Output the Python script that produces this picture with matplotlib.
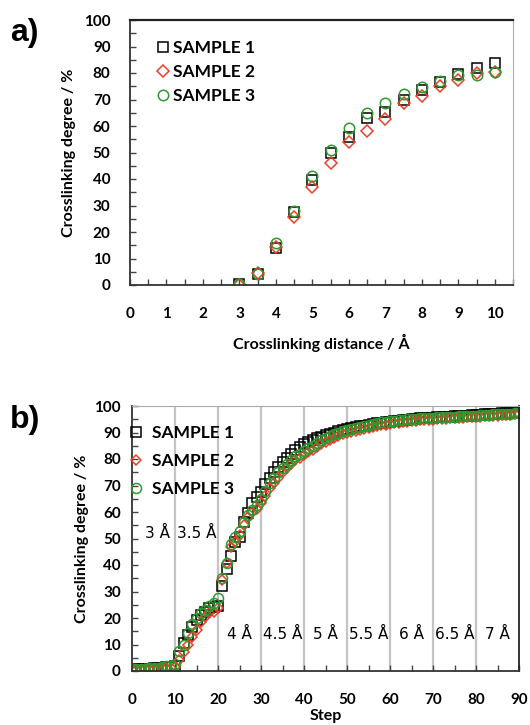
import numpy as np
import matplotlib
matplotlib.use('Agg')
import matplotlib.pyplot as plt
import matplotlib.ticker as ticker

plt.rcParams['font.family'] = ['Lato', 'DejaVu Sans']

# ---- panel a) : crosslinking degree vs distance
dist = [3, 3.5, 4, 4.5, 5, 5.5, 6, 6.5, 7, 7.5, 8, 8.5, 9, 9.5, 10]
a_s1 = [0.2, 4.0, 13.8, 27.7, 39.6, 49.7, 56.0, 63.0, 65.4, 69.8, 73.6, 76.7, 79.5, 82.0, 83.7]
a_s2 = [0.0, 4.5, 14.5, 25.5, 37.0, 46.0, 54.0, 58.0, 62.5, 68.6, 71.3, 75.2, 77.4, 79.9, 80.5]
a_s3 = [0.3, 4.0, 15.7, 28.0, 41.0, 51.0, 59.1, 64.8, 68.8, 72.0, 74.8, 77.0, 79.2, 79.2, 80.3]

# ---- panel b) : crosslinking degree vs step
steps = list(range(0, 91))
b_s1 = [0.5, 0.6, 0.7, 0.8, 0.9, 1.0, 1.1, 1.2, 1.4, 1.6, 2.0,
        5.8, 10.4, 13.6, 16.7, 19.2, 21.1, 22.4, 23.6, 24.0, 24.5,
        32.0, 38.4, 43.4, 48.8, 50.7, 56.4, 59.5, 63.3, 65.5, 67.5,
        70.5, 73.0, 75.0, 77.0, 79.0, 80.5, 82.0, 83.5, 84.5, 85.5,
        86.3, 87.0, 87.8, 88.4, 89.0, 89.5, 90.0, 90.4, 90.8, 91.2,
        91.6, 92.0, 92.3, 92.6, 92.9, 93.2, 93.5, 93.7, 93.9, 94.1,
        94.3, 94.5, 94.7, 94.9, 95.0, 95.2, 95.3, 95.4, 95.5, 95.6,
        95.7, 95.8, 95.9, 96.0, 96.1, 96.2, 96.3, 96.4, 96.5, 96.6,
        96.7, 96.8, 96.9, 97.0, 97.1, 97.2, 97.3, 97.4, 97.5, 97.6]
b_s2 = [0.3, 0.4, 0.5, 0.6, 0.7, 0.8, 0.9, 1.0, 1.1, 1.3, 1.5,
        4.1, 7.2, 9.8, 12.9, 15.4, 18.6, 20.5, 22.0, 22.4, 23.6,
        34.3, 40.6, 46.9, 48.8, 51.3, 55.0, 58.2, 60.0, 61.3, 63.3,
        66.0, 69.0, 71.0, 73.0, 75.0, 76.5, 78.0, 79.5, 80.5, 81.5,
        82.5, 83.5, 84.5, 85.5, 86.5, 87.2, 88.0, 88.7, 89.3, 89.8,
        90.2, 90.6, 91.0, 91.4, 91.8, 92.2, 92.5, 92.8, 93.0, 93.3,
        93.5, 93.7, 93.9, 94.1, 94.3, 94.5, 94.6, 94.7, 94.8, 94.9,
        95.0, 95.1, 95.2, 95.3, 95.4, 95.5, 95.6, 95.7, 95.8, 95.9,
        96.0, 96.1, 96.2, 96.3, 96.4, 96.5, 96.6, 96.7, 96.8, 96.9]
b_s3 = [0.6, 0.7, 0.8, 0.9, 1.0, 1.2, 1.3, 1.5, 1.7, 2.0, 2.5,
        7.5, 9.8, 14.2, 17.9, 19.9, 21.7, 23.0, 24.5, 25.5, 27.4,
        35.0, 40.6, 48.0, 50.5, 53.0, 56.4, 58.9, 60.7, 62.5, 65.0,
        68.0, 71.0, 73.0, 75.0, 76.5, 78.0, 79.5, 81.0, 82.0, 83.0,
        84.0, 85.0, 86.0, 87.0, 88.0, 88.7, 89.4, 90.0, 90.5, 91.0,
        91.4, 91.8, 92.2, 92.6, 93.0, 93.3, 93.6, 93.8, 94.0, 94.2,
        94.4, 94.6, 94.8, 95.0, 95.1, 95.2, 95.3, 95.4, 95.5, 95.6,
        95.7, 95.8, 95.9, 96.0, 96.0, 96.1, 96.2, 96.2, 96.3, 96.4,
        96.5, 96.6, 96.7, 96.8, 96.9, 97.0, 97.0, 97.1, 97.2, 97.3]

labels = ['SAMPLE 1', 'SAMPLE 2', 'SAMPLE 3']
dist_labels = ['3 Å', '3.5 Å', '4 Å', '4.5 Å', '5 Å', '5.5 Å', '6 Å', '6.5 Å', '7 Å']
dist_label_x = [6, 15, 25, 35, 45, 55, 65, 75, 85]
dist_label_y = [52, 52, 13.6, 13.6, 13.6, 13.6, 13.6, 13.6, 13.6]

red = '#e8402a'
green = '#2e9a2e'
styles = [dict(marker='s', mec='black'), dict(marker='D', mec=red), dict(marker='o', mec=green)]

W, H = 530, 725
fig = plt.figure(figsize=(W / 100, H / 100), dpi=100)
ax1 = fig.add_axes([130 / W, 1 - 285 / H, 383 / W, 265 / H])
ax2 = fig.add_axes([132 / W, 1 - 671 / H, 387 / W, 265 / H])

for y, lab, st in zip([a_s1, a_s2, a_s3], labels, styles):
    ms = 6.0 if st['marker'] == 'D' else 7.5
    ax1.plot(dist, y, ls='none', marker=st['marker'], mfc='none', mec=st['mec'],
             ms=ms, mew=1.1, label=lab)

for y, lab, st in zip([b_s1, b_s2, b_s3], labels, styles):
    ms = 5.5 if st['marker'] == 'D' else 7.2
    ax2.plot(steps, y, ls='none', marker=st['marker'], mfc='none', mec=st['mec'],
             ms=ms, mew=1.1, label=lab)

ax1.set_xlim(0, 10.5)
ax1.set_ylim(0, 100)
ax1.xaxis.set_major_locator(ticker.FixedLocator(np.arange(0, 11, 1)))
ax1.xaxis.set_minor_locator(ticker.MultipleLocator(0.5))
ax1.yaxis.set_major_locator(ticker.MultipleLocator(10))
ax1.yaxis.set_minor_locator(ticker.MultipleLocator(5))

ax2.set_xlim(0, 90)
ax2.set_ylim(0, 100)
ax2.xaxis.set_major_locator(ticker.MultipleLocator(10))
ax2.xaxis.set_minor_locator(ticker.MultipleLocator(5))
ax2.yaxis.set_major_locator(ticker.MultipleLocator(10))
ax2.yaxis.set_minor_locator(ticker.MultipleLocator(5))
for gx in range(10, 90, 10):
    ax2.axvline(gx, color='#c4c4c4', lw=1.6, zorder=0)

for ax in (ax1, ax2):
    ax.tick_params(which='both', direction='in', length=4, width=1.0, color='#444444',
                   top=False, right=False, labelsize=11)
    for t in ax.get_xticklabels() + ax.get_yticklabels():
        t.set_fontweight('bold')
    ax.spines['left'].set_color('#333333')
    ax.spines['bottom'].set_color('#333333')
    ax.spines['left'].set_linewidth(1.3)
    ax.spines['bottom'].set_linewidth(1.3)

ax1.spines['top'].set_color('#222222')
ax1.spines['top'].set_linewidth(1.6)
ax1.spines['right'].set_color('#aaaaaa')
ax2.spines['top'].set_color('#aaaaaa')
ax2.spines['right'].set_color('#222222')
ax2.spines['right'].set_linewidth(1.3)

ax1.tick_params(axis='x', pad=16)
ax1.tick_params(axis='y', pad=14)
ax2.tick_params(axis='x', pad=16)
ax2.tick_params(axis='y', pad=8)

ax1.set_xlabel('Crosslinking distance / Å', fontsize=11.5, fontweight='bold', labelpad=9)
ax1.set_ylabel('Crosslinking degree / %', fontsize=11.5, fontweight='bold', labelpad=6)
ax2.set_xlabel('Step', fontsize=11.5, fontweight='bold', labelpad=1)
ax2.set_ylabel('Crosslinking degree / %', fontsize=11.5, fontweight='bold', labelpad=4)

leg1 = ax1.legend(loc='upper left', bbox_to_anchor=(0.05, 0.95), frameon=False,
                  prop={'weight': 'bold', 'size': 12.5}, handletextpad=0.2,
                  handlelength=0.8, labelspacing=0.45, borderaxespad=0)
leg2 = ax2.legend(loc='upper left', bbox_to_anchor=(-0.025, 0.955), frameon=False,
                  prop={'weight': 'bold', 'size': 12.5}, handletextpad=0.5,
                  handlelength=0.8, labelspacing=0.7, borderaxespad=0)

for s, xx, yy in zip(dist_labels, dist_label_x, dist_label_y):
    ax2.text(xx, yy, s, ha='center', va='center', fontsize=11,
             family=['DejaVu Sans'])

fig.text(10 / W, 1 - 33 / H, 'a)', fontsize=23, fontweight='bold',
         family=['Liberation Sans'], va='center', ha='left')
fig.text(10 / W, 1 - 420 / H, 'b)', fontsize=23, fontweight='bold',
         family=['Liberation Sans'], va='center', ha='left')

fig.savefig('out.png', dpi=100)
